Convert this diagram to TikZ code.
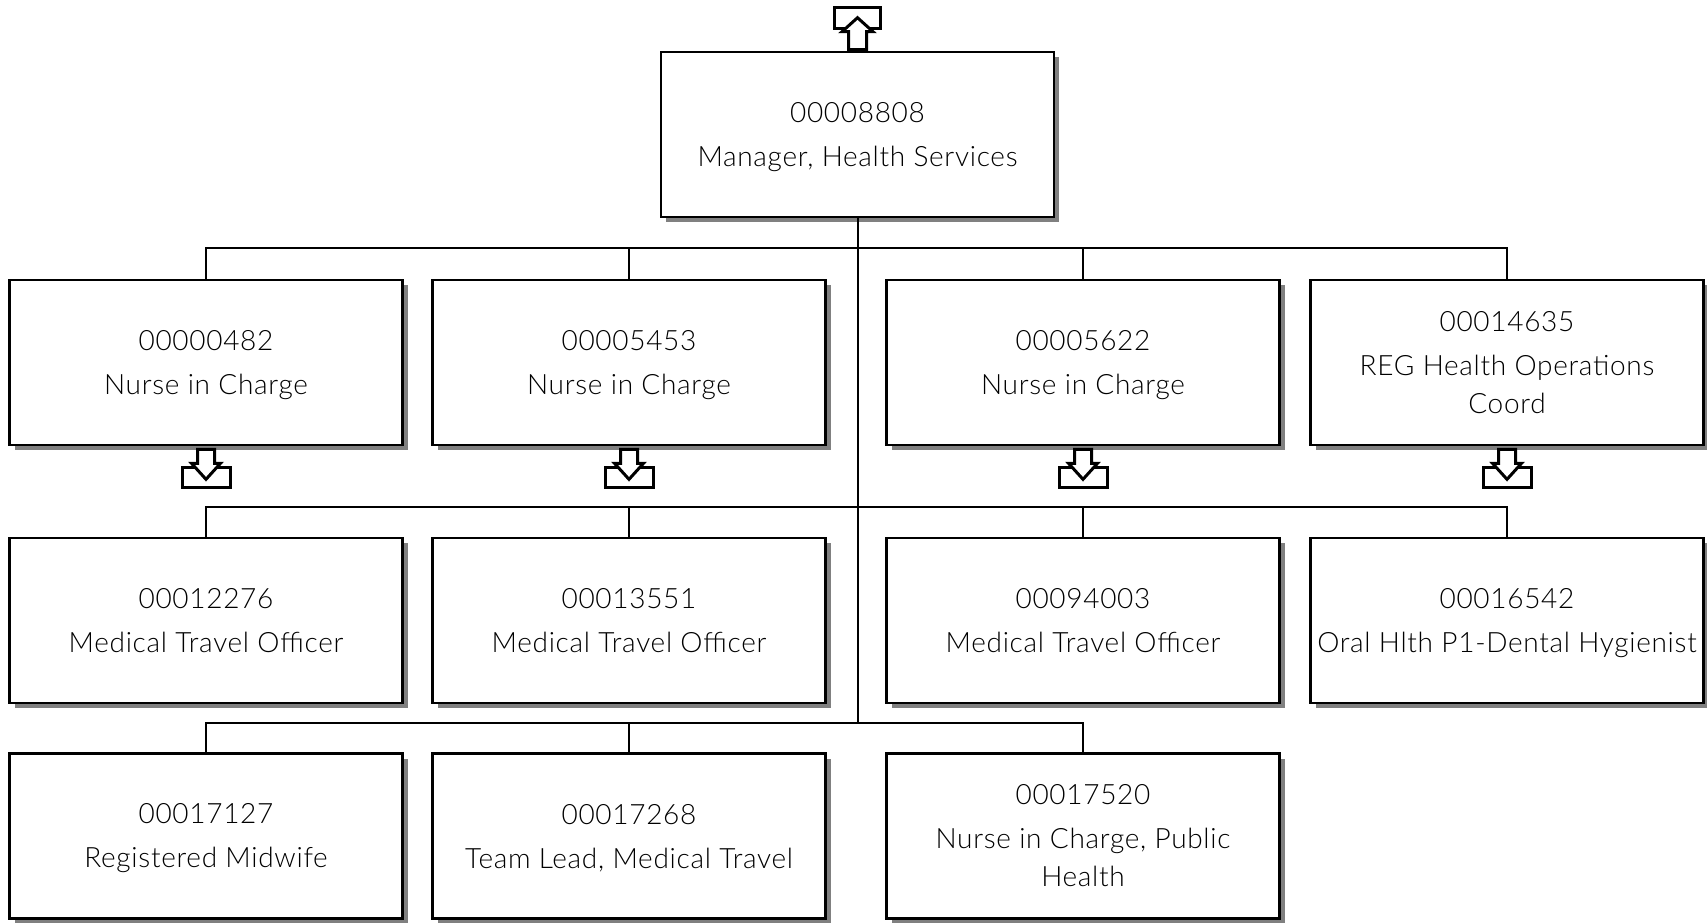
\documentclass[tikz,border=0pt]{standalone}
\usepackage{fontspec}
\setmainfont{Lato Light}[LetterSpace=2.5]
\usetikzlibrary{shadows}
\tikzset{
  orgbox/.style={draw=black, line width=2.6pt, fill=white, minimum width=393pt, minimum height=165pt,
    inner sep=0pt, align=center, font=\fontsize{28}{38}\selectfont, text=black,
    general shadow={fill=black!50, shadow xshift=5pt, shadow yshift=-5pt}},
  conn/.style={draw=black, line width=2pt},
  icon/.style={draw=black, line width=3pt, fill=white, line join=miter},
  pics/downicon/.style={code={
    \draw[icon] (-24,21) rectangle (24,41);
    \draw[icon] (-8.5,3) -- (8.5,3) -- (8.5,17) -- (14.5,17) -- (0,33) -- (-14.5,17) -- (-8.5,17) -- cycle;
  }},
  pics/upicon/.style={code={
    \draw[icon] (-23,-43) rectangle (23,-22);
    \draw[icon] (-9,-1) -- (9,-1) -- (9,-19) -- (15.5,-19) -- (0,-33) -- (-15.5,-19) -- (-9,-19) -- cycle;
  }}
}
\newcommand{\nodesc}[1]{\raisebox{0pt}[\height][0pt]{#1}}
\newcommand{\tline}[1]{\raisebox{0pt}[\dimexpr\height+5pt\relax]{#1}}
\begin{document}
\begin{tikzpicture}[x=1pt, y=-1pt]
\useasboundingbox (0,0) rectangle (1707,922);
% nodes
\node[orgbox] (top) at (857.5,134.5) {\tline{00008808}\\[6pt]Manager, Health Services};
\node[orgbox] (a1) at (206,362.5) {\tline{00000482}\\[6pt]Nurse in Charge};
\node[orgbox] (a2) at (629,362.5) {\tline{00005453}\\[6pt]Nurse in Charge};
\node[orgbox] (a3) at (1083,362.5) {\tline{00005622}\\[6pt]Nurse in Charge};
\node[orgbox] (a4) at (1507,362.5) {00014635\\[6pt]REG Health Operations\\Coord};
\node[orgbox] (b1) at (206,620.5) {00012276\\[6pt]Medical Travel Officer};
\node[orgbox] (b2) at (629,620.5) {00013551\\[6pt]Medical Travel Officer};
\node[orgbox] (b3) at (1083,620.5) {00094003\\[6pt]Medical Travel Officer};
\node[orgbox] (b4) at (1507,620.5) {00016542\\[6pt]\nodesc{Oral Hlth P1-Dental Hygienist}};
\node[orgbox] (c1) at (206,836) {\tline{00017127}\\[6pt]Registered Midwife};
\node[orgbox] (c2) at (629,836) {\tline{00017268}\\[6pt]Team Lead, Medical Travel};
\node[orgbox] (c3) at (1083,836) {00017520\\[6pt]Nurse in Charge, Public\\Health};
% junctions
\coordinate (j1) at (857.5,248);
\coordinate (j2) at (857.5,507);
\coordinate (j3) at (857.5,723);
% connectors
\draw[conn] (top.south) -- (j3);
\draw[conn] (a1.north) |- (j1) -| (a4.north);
\draw[conn] (a2.north) |- (j1);
\draw[conn] (a3.north) |- (j1);
\draw[conn] (b1.north) |- (j2) -| (b4.north);
\draw[conn] (b2.north) |- (j2);
\draw[conn] (b3.north) |- (j2);
\draw[conn] (c1.north) |- (j3) -| (c3.north);
\draw[conn] (c2.north) |- (j3);
% icons
\pic at (top.north) {upicon};
\pic at (a1.south) {downicon};
\pic at (a2.south) {downicon};
\pic at (a3.south) {downicon};
\pic at (a4.south) {downicon};
\end{tikzpicture}
\end{document}
